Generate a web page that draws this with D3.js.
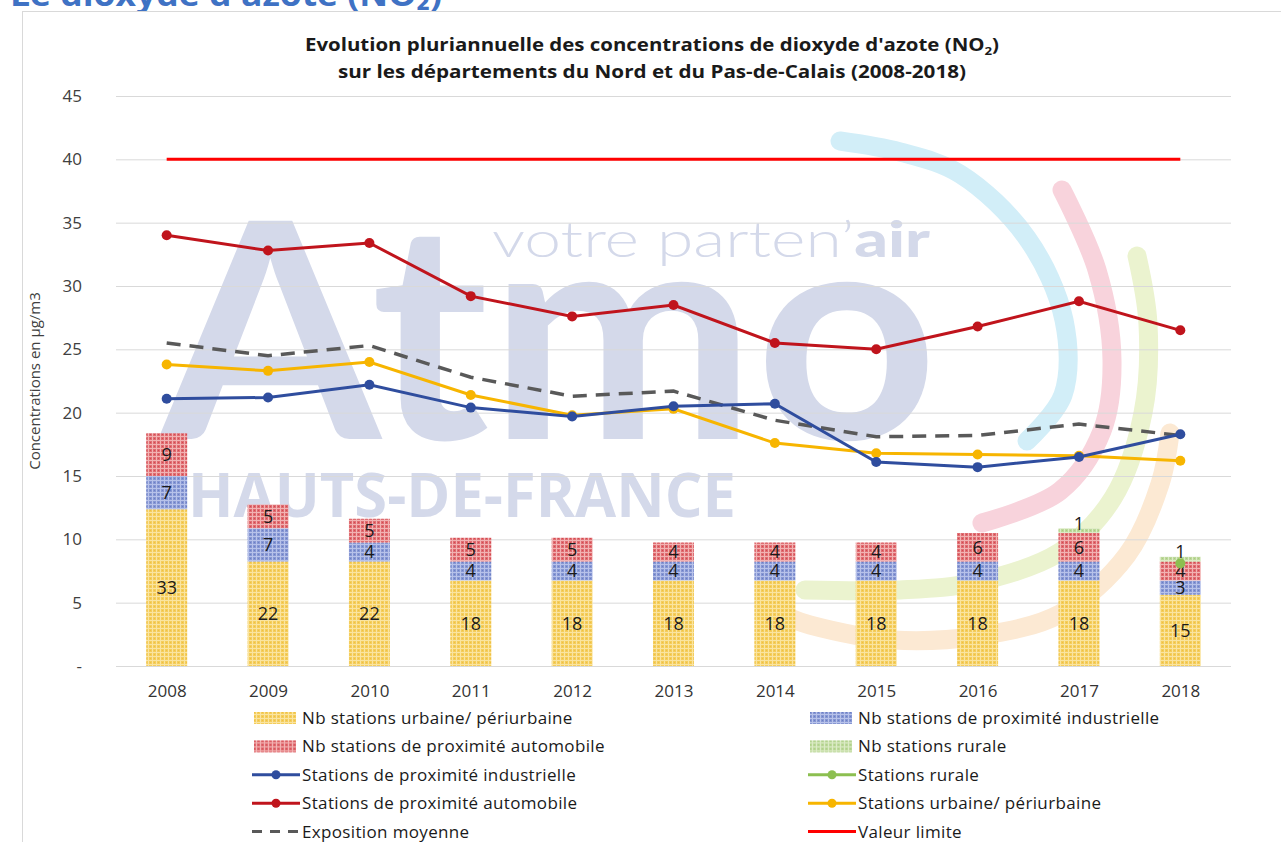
<!DOCTYPE html>
<html>
<head>
<meta charset="utf-8">
<script src="https://cdn.jsdelivr.net/npm/d3@7"></script>
<style>
  body { margin: 0; background: #fff; }
  svg { display: block; font-family: "Open Sans", "Noto Sans", sans-serif; }
</style>
</head>
<body>
<svg id="chart" width="1281" height="842"></svg>
<script>
// data
const years = [2008, 2009, 2010, 2011, 2012, 2013, 2014, 2015, 2016, 2017, 2018];

// number of stations (stacked bars, secondary hidden axis)
const nbUrbaine = [33, 22, 22, 18, 18, 18, 18, 18, 18, 18, 15];
const nbIndustrielle = [7, 7, 4, 4, 4, 4, 4, 4, 4, 4, 3];
const nbAutomobile = [9, 5, 5, 5, 5, 4, 4, 4, 6, 6, 4];
const nbRurale = [0, 0, 0, 0, 0, 0, 0, 0, 0, 1, 1];

// concentrations in µg/m3
const concIndustrielle = [21.1, 21.2, 22.2, 20.4, 19.7, 20.5, 20.7, 16.1, 15.7, 16.5, 18.3];
const concAutomobile = [34.0, 32.8, 33.4, 29.2, 27.6, 28.5, 25.5, 25.0, 26.8, 28.8, 26.5];
const concUrbaine = [23.8, 23.3, 24.0, 21.4, 19.8, 20.3, 17.6, 16.8, 16.7, 16.6, 16.2];
const concRurale = [null, null, null, null, null, null, null, null, null, null, 8.1];
const expoMoyenne = [25.5, 24.5, 25.3, 22.8, 21.3, 21.7, 19.4, 18.1, 18.2, 19.1, 18.2];
const valeurLimite = 40;

const yTicks = [0, 5, 10, 15, 20, 25, 30, 35, 40, 45];

const svg = d3.select('#chart');
const x0 = 116, x1 = 1231, yTop = 96, yBot = 666;

const x = d3.scalePoint().domain(years).range([x0, x1]).padding(0.5);
const y = d3.scaleLinear().domain([0, 45]).range([yBot, yTop]);
// hidden secondary axis for the station counts
const yNb = d3.scaleLinear().domain([0, 120]).range([yBot, yTop]);
const barW = 41;

// bar textures
const defs = svg.append('defs');
function gridPattern(id, base, light, dark) {
  const p = defs.append('pattern').attr('id', id)
    .attr('width', 4).attr('height', 4).attr('patternUnits', 'userSpaceOnUse');
  p.append('rect').attr('width', 4).attr('height', 4).attr('fill', base);
  p.append('rect').attr('width', 4).attr('height', 1).attr('fill', light);
  p.append('rect').attr('width', 1).attr('height', 4).attr('fill', light);
  p.append('rect').attr('x', 2).attr('y', 2).attr('width', 1).attr('height', 1).attr('fill', dark);
}
gridPattern('patU', '#f4cd5c', '#fae4a0', '#efc043');
gridPattern('patI', '#8797d3', '#b7c2ea', '#6a7fc6');
gridPattern('patA', '#df6d72', '#f2b2b2', '#d4494f');
gridPattern('patR', '#bcd89a', '#dcebc6', '#a9cc80');

// frame + cut heading
svg.append('text')
  .attr('x', 10).attr('y', 6)
  .attr('textLength', 432).attr('lengthAdjust', 'spacingAndGlyphs')
  .style('font-size', '32px').style('font-weight', 700).style('fill', '#3f72c4')
  .text("Le dioxyde d'azote (NO\u2082)");
svg.append('rect')
  .attr('x', 22.5).attr('y', 11.5).attr('width', 1300).attr('height', 900)
  .attr('fill', '#fff').attr('stroke', '#d9d9d9');

// watermark behind the plot
const wm = svg.append('g').attr('class', 'watermark');
const arcLine = d3.line().curve(d3.curveCatmullRom);
const arcs = [
  { c: '#d2eef8', pts: [[840, 141], [900, 152], [960, 174], [1027, 238], [1064, 320], [1063, 395], [1027, 441]] },
  { c: '#f8d3dc', pts: [[1062, 190], [1097, 270], [1112, 360], [1102, 431], [1060, 491], [982, 523]] },
  { c: '#ebf3cf', pts: [[1137, 256], [1148, 324], [1143, 413], [1113, 498], [1060, 552], [977, 582], [900, 590], [805, 590]] },
  { c: '#fce9d3', pts: [[1170, 433], [1160, 484], [1127, 555], [1060, 614], [977, 636], [893, 640], [810, 625], [790, 618]] }
];
wm.selectAll('path.arc').data(arcs).join('path')
  .attr('class', 'arc')
  .attr('d', d => arcLine(d.pts))
  .attr('fill', 'none')
  .attr('stroke', d => d.c)
  .attr('stroke-width', 19)
  .attr('stroke-linecap', 'round');

wm.append('text')
  .attr('x', 160).attr('y', 439)
  .attr('textLength', 778).attr('lengthAdjust', 'spacingAndGlyphs')
  .style('font-family', 'Lato, sans-serif').style('font-size', '302px').style('font-weight', 700)
  .style('fill', '#d4d9ea')
  .text('Atmo');
const vp = wm.append('text')
  .attr('x', 492).attr('y', 257)
  .attr('textLength', 438).attr('lengthAdjust', 'spacingAndGlyphs')
  .style('font-family', 'Lato, sans-serif').style('font-size', '50px')
  .style('fill', '#d4d9ea');
vp.append('tspan').style('font-weight', 300).text('votre parten\u2019');
vp.append('tspan').style('font-weight', 900).text('air');
wm.append('text')
  .attr('x', 188).attr('y', 517)
  .attr('textLength', 548).attr('lengthAdjust', 'spacingAndGlyphs')
  .style('font-size', '60px').style('font-weight', 700)
  .style('fill', '#d4d9ea')
  .text('HAUTS-DE-FRANCE');

// gridlines
svg.append('g')
  .attr('transform', `translate(${x0},0)`)
  .call(d3.axisLeft(y).tickValues(yTicks).tickSize(-(x1 - x0)).tickFormat(''))
  .call(g => g.select('.domain').remove())
  .call(g => g.selectAll('line').attr('stroke', '#d9d9d9'));

// y axis labels
svg.append('g')
  .attr('transform', `translate(90,0)`)
  .call(d3.axisLeft(y).tickValues(yTicks).tickSize(0).tickPadding(8)
    .tickFormat(d => d === 0 ? '-' : d))
  .call(g => g.select('.domain').remove())
  .call(g => g.selectAll('text')
    .style('font-family', '"Open Sans", sans-serif')
    .style('font-size', '17px').attr('fill', '#404040'));

svg.append('text')
  .attr('transform', 'translate(40,381) rotate(-90)')
  .attr('text-anchor', 'middle')
  .style('font-size', '15px').style('fill', '#404040')
  .text('Concentrations en \u00b5g/m3');

// x axis labels
svg.append('g')
  .attr('transform', `translate(0,${yBot})`)
  .call(d3.axisBottom(x).tickSize(0).tickPadding(19))
  .call(g => g.select('.domain').remove())
  .call(g => g.selectAll('text')
    .style('font-family', '"Open Sans", sans-serif')
    .style('font-size', '17px').attr('fill', '#333'));

// stacked bars
const barRows = years.map((yr, i) => ({
  year: yr, urbaine: nbUrbaine[i], industrielle: nbIndustrielle[i],
  automobile: nbAutomobile[i], rurale: nbRurale[i]
}));
const keys = ['urbaine', 'industrielle', 'automobile', 'rurale'];
const fills = { urbaine: 'url(#patU)', industrielle: 'url(#patI)', automobile: 'url(#patA)', rurale: 'url(#patR)' };
const stacked = d3.stack().keys(keys)(barRows);

const bars = svg.append('g').attr('class', 'bars');
stacked.forEach(layer => {
  const g = bars.append('g');
  g.selectAll('rect')
    .data(layer.filter(d => d[1] > d[0]))
    .join('rect')
    .attr('x', d => x(d.data.year) - barW / 2)
    .attr('y', d => yNb(d[1]))
    .attr('width', barW)
    .attr('height', d => yNb(d[0]) - yNb(d[1]))
    .attr('fill', fills[layer.key]);
  g.selectAll('text')
    .data(layer.filter(d => d[1] > d[0]))
    .join('text')
    .attr('x', d => x(d.data.year))
    .attr('y', d => (yNb(d[0]) + yNb(d[1])) / 2)
    .attr('dy', layer.key === 'rurale' ? '-0.05em' : '0.36em')
    .attr('text-anchor', 'middle')
    .style('font-size', '18px').style('fill', '#1a1a1a')
    .text(d => d[1] - d[0]);
});

// lines
const lineGen = d3.line()
  .defined(d => d.v != null)
  .x(d => x(d.year))
  .y(d => y(d.v));

svg.append('path')
  .datum(years.map(yr => ({ year: yr, v: valeurLimite })))
  .attr('d', lineGen)
  .attr('fill', 'none').attr('stroke', '#ff0000').attr('stroke-width', 3);

svg.append('path')
  .datum(years.map((yr, i) => ({ year: yr, v: expoMoyenne[i] })))
  .attr('d', lineGen)
  .attr('fill', 'none').attr('stroke', '#595959').attr('stroke-width', 3.5)
  .attr('stroke-dasharray', '14,9');

const series = [
  { values: concAutomobile, color: '#c0141c' },
  { values: concUrbaine, color: '#f7b500' },
  { values: concIndustrielle, color: '#2f4d9e' },
  { values: concRurale, color: '#8cbf50' }
];
series.forEach(s => {
  const pts = years.map((yr, i) => ({ year: yr, v: s.values[i] }));
  svg.append('path')
    .datum(pts)
    .attr('d', lineGen)
    .attr('fill', 'none').attr('stroke', s.color).attr('stroke-width', 3);
  svg.append('g').selectAll('circle')
    .data(pts.filter(d => d.v != null))
    .join('circle')
    .attr('cx', d => x(d.year)).attr('cy', d => y(d.v))
    .attr('r', 5).attr('fill', s.color);
});

// title
const title = svg.append('g').style('font-weight', 700).style('fill', '#1a1a1a');
const t1 = title.append('text')
  .attr('x', 652).attr('y', 51).attr('text-anchor', 'middle')
  .attr('textLength', 694).attr('lengthAdjust', 'spacingAndGlyphs')
  .style('font-size', '17px');
t1.append('tspan').text("Evolution pluriannuelle des concentrations de dioxyde d'azote (NO");
t1.append('tspan').attr('dy', 4).style('font-size', '11px').text('2');
t1.append('tspan').attr('dy', -4).text(')');
title.append('text')
  .attr('x', 652).attr('y', 78).attr('text-anchor', 'middle')
  .attr('textLength', 628).attr('lengthAdjust', 'spacingAndGlyphs')
  .style('font-size', '17px')
  .text('sur les d\u00e9partements du Nord et du Pas-de-Calais (2008-2018)');

// legend
const legendItems = [
  { label: 'Nb stations urbaine/ p\u00e9riurbaine', type: 'bar', fill: 'url(#patU)', col: 0, row: 0 },
  { label: 'Nb stations de proximit\u00e9 industrielle', type: 'bar', fill: 'url(#patI)', col: 1, row: 0 },
  { label: 'Nb stations de proximit\u00e9 automobile', type: 'bar', fill: 'url(#patA)', col: 0, row: 1 },
  { label: 'Nb stations rurale', type: 'bar', fill: 'url(#patR)', col: 1, row: 1 },
  { label: 'Stations de proximit\u00e9 industrielle', type: 'line', color: '#2f4d9e', col: 0, row: 2 },
  { label: 'Stations rurale', type: 'line', color: '#8cbf50', col: 1, row: 2 },
  { label: 'Stations de proximit\u00e9 automobile', type: 'line', color: '#c0141c', col: 0, row: 3 },
  { label: 'Stations urbaine/ p\u00e9riurbaine', type: 'line', color: '#f7b500', col: 1, row: 3 },
  { label: 'Exposition moyenne', type: 'dash', color: '#595959', col: 0, row: 4 },
  { label: 'Valeur limite', type: 'plain', color: '#ff0000', col: 1, row: 4 }
];
const legend = svg.append('g').attr('class', 'legend');
legend.selectAll('g.legend-item')
  .data(legendItems)
  .join('g')
  .attr('class', 'legend-item')
  .attr('transform', d => `translate(${d.col ? 808 : 252},${718 + d.row * 28.4})`)
  .each(function(d) {
    const item = d3.select(this);
    if (d.type === 'bar') {
      item.append('rect').attr('x', 2).attr('y', -6).attr('width', 42).attr('height', 12).attr('fill', d.fill);
    } else if (d.type === 'dash') {
      item.append('line').attr('x1', 0).attr('x2', 46).attr('y1', 0).attr('y2', 0)
        .attr('stroke', d.color).attr('stroke-width', 3).attr('stroke-dasharray', '10,8');
    } else {
      item.append('line').attr('x1', 0).attr('x2', 48).attr('y1', 0).attr('y2', 0)
        .attr('stroke', d.color).attr('stroke-width', 3);
      if (d.type === 'line') item.append('circle').attr('cx', 24).attr('r', 4.5).attr('fill', d.color);
    }
    item.append('text')
      .attr('x', 50).attr('y', 0).attr('dy', '0.35em')
      .style('font-size', '17px').style('letter-spacing', '0.35px').style('fill', '#1a1a1a')
      .text(d.label);
  });
</script>
</body>
</html>
